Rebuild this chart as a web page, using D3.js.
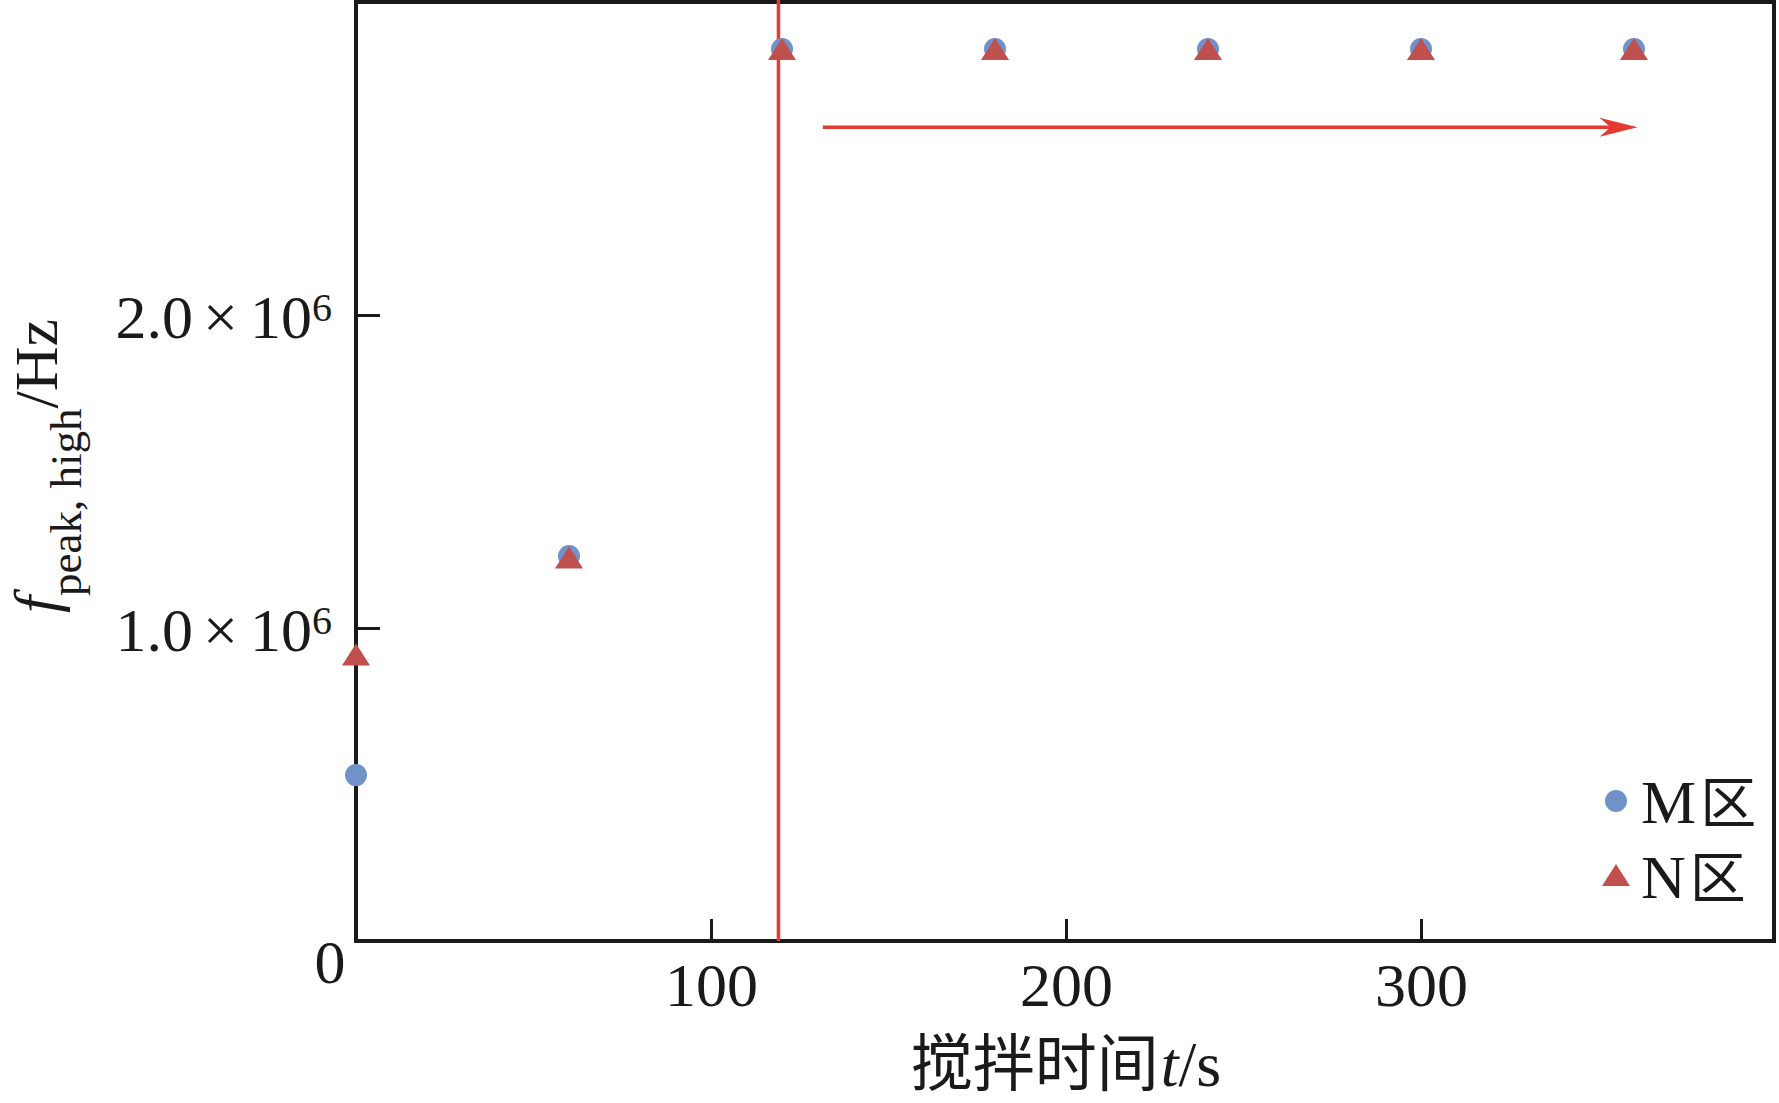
<!DOCTYPE html>
<html>
<head>
<meta charset="utf-8">
<script src="https://cdn.jsdelivr.net/npm/d3@7"></script>
<style>
  body { margin: 0; background: #fff; }
  svg { display: block; }
  text { font-family: "Liberation Serif", "Times New Roman", serif; fill: #1a1a1a; }
</style>
</head>
<body>
<svg id="chart" width="1779" height="1103"></svg>
<script>
// ---- data ----
const times = [0, 60, 120, 180, 240, 300, 360];
const mZone = [0.53e6, 1.23e6, 2.85e6, 2.85e6, 2.85e6, 2.85e6, 2.85e6];
const nZone = [0.915e6, 1.225e6, 2.85e6, 2.85e6, 2.85e6, 2.85e6, 2.85e6];
const seriesNames = ["M区", "N区"];
const xTicks = [100, 200, 300];
const yTicks = [1e6, 2e6];
const yTickLabels = ["1.0", "2.0"];
const xDomain = [0, 400];
const yDomain = [0, 3e6];
const markerTime = 119;            // vertical red line
const arrowFrom = [131.5, 2.6e6];  // red arrow start
const arrowTo = [361, 2.6e6];      // red arrow tip

// ---- layout ----
const svg = d3.select("#chart");
const margin = {left: 356, right: 3, top: 2, bottom: 162};
const W = 1779, H = 1103;
const x = d3.scaleLinear().domain(xDomain).range([margin.left, W - margin.right]);
const y = d3.scaleLinear().domain(yDomain).range([H - margin.bottom, margin.top]);

const blue = "#7092c9", red = "#c0504d", lineRed = "#e33b32", ink = "#1a1a1a";

// x axis
const gx = svg.append("g").attr("transform", `translate(0,${y(0)})`)
  .call(d3.axisBottom(x).tickValues(xTicks).tickSizeInner(-22).tickSizeOuter(0).tickPadding(21).tickFormat(d3.format("d")));
gx.select(".domain").remove();
gx.selectAll(".tick line").attr("stroke", ink).attr("stroke-width", 3);
gx.selectAll(".tick text").attr("font-size", 62).attr("fill", ink).attr("font-family", "Liberation Serif");

// y axis
const gy = svg.append("g").attr("transform", `translate(${x(0)},0)`)
  .call(d3.axisLeft(y).tickValues(yTicks).tickSizeInner(-24).tickSizeOuter(0).tickPadding(24).tickFormat(""));
gy.select(".domain").remove();
gy.selectAll(".tick line").attr("stroke", ink).attr("stroke-width", 3);
gy.selectAll(".tick text").each(function(d, i) {
  const t = d3.select(this).attr("font-size", 62).attr("fill", ink).attr("font-family", "Liberation Serif").attr("dy", "0.36em");
  t.append("tspan").text(yTickLabels[i]);
  t.append("tspan").attr("dx", 10).text("×");
  t.append("tspan").attr("dx", 12).text("10");
  t.append("tspan").attr("font-size", 40).attr("dy", -17).text("6");
});

// shared origin label
svg.append("text").attr("x", x(0) - 26).attr("y", y(0) + 42)
  .attr("text-anchor", "middle").attr("font-size", 62).text("0");

// frame
svg.append("rect")
  .attr("x", x(xDomain[0])).attr("y", y(yDomain[1]))
  .attr("width", x(xDomain[1]) - x(xDomain[0]) - 2)
  .attr("height", y(yDomain[0]) - y(yDomain[1]))
  .attr("fill", "none").attr("stroke", ink).attr("stroke-width", 4);

// vertical red line
svg.append("line")
  .attr("x1", x(markerTime)).attr("x2", x(markerTime))
  .attr("y1", y(yDomain[1]) - 2).attr("y2", y(0))
  .attr("stroke", lineRed).attr("stroke-width", 3.5);

// arrow
const ax0 = x(arrowFrom[0]), ay = y(arrowFrom[1]), ax1 = x(arrowTo[0]);
svg.append("line").attr("x1", ax0).attr("x2", ax1 - 20).attr("y1", ay).attr("y2", ay)
  .attr("stroke", lineRed).attr("stroke-width", 3.5);
svg.append("path")
  .attr("d", `M${ax1},${ay} L${ax1 - 38},${ay - 9.5} L${ax1 - 27},${ay} L${ax1 - 38},${ay + 9.5} Z`)
  .attr("fill", lineRed);

// markers
const tri = (cx, cy) => `M${cx},${cy - 11} L${cx + 14},${cy + 11} L${cx - 14},${cy + 11} Z`;
svg.append("g").selectAll("circle").data(times).join("circle")
  .attr("cx", (d) => x(d)).attr("cy", (d, i) => y(mZone[i])).attr("r", 11).attr("fill", blue);
svg.append("g").selectAll("path").data(times).join("path")
  .attr("d", (d, i) => tri(x(d), y(nZone[i]))).attr("fill", red);

// legend
const lg = svg.append("g");
lg.append("circle").attr("cx", 1616).attr("cy", 801).attr("r", 11).attr("fill", blue);
lg.append("path").attr("d", tri(1616, 875)).attr("fill", red);
[823, 898].forEach((by, i) => {
  const t = lg.append("text").attr("x", 1641).attr("y", by).attr("font-size", 62);
  t.append("tspan").text(seriesNames[i][0]);
  t.append("tspan").attr("font-family", "Noto Sans CJK SC").attr("font-size", 56).attr("dx", 4).text(seriesNames[i].slice(1));
});

// axis titles
const xl = svg.append("text").attr("x", (x(xDomain[0]) + x(xDomain[1])) / 2).attr("y", 1086)
  .attr("text-anchor", "middle").attr("font-size", 64);
xl.append("tspan").attr("font-family", "Noto Sans CJK SC").attr("font-size", 62).text("搅拌时间");
xl.append("tspan").attr("font-style", "italic").attr("dx", 2).text("t");
xl.append("tspan").text("/s");

const yl = svg.append("text").attr("transform", "translate(57,466) rotate(-90)")
  .attr("text-anchor", "middle").attr("font-size", 62);
yl.append("tspan").attr("font-style", "italic").text("f");
yl.append("tspan").attr("font-size", 45).attr("dy", 24).text("peak, high");
yl.append("tspan").attr("dy", -24).text("/Hz");
</script>
</body>
</html>
